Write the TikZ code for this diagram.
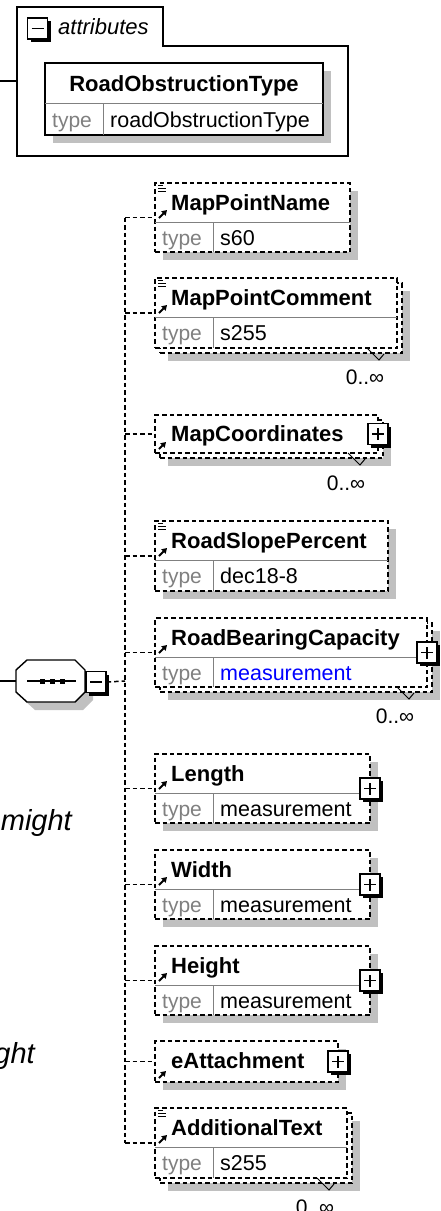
\documentclass[tikz,border=0pt]{standalone}
\usepackage{fontspec}
\setmainfont{Liberation Sans}
\usetikzlibrary{shadows,arrows.meta}

\definecolor{shadegray}{RGB}{192,192,192}
\definecolor{typegray}{RGB}{128,128,128}
\definecolor{typeblue}{RGB}{0,0,255}

\tikzset{
    elem/.style={draw, dash pattern=on 4.5pt off 3pt, line width=1.5pt, fill=white, inner sep=0pt, outer sep=0pt, anchor=north west},
    attrbox/.style={draw, line width=1.4pt, fill=white, inner sep=0pt, outer sep=0pt, anchor=north west},
    boxshadow/.style={drop shadow={shadow xshift=8pt, shadow yshift=-8pt, fill=shadegray, opacity=1}},
    ename/.style={anchor=base west, inner sep=0pt, font=\fontsize{22}{26}\selectfont\bfseries},
    tlabel/.style={anchor=base west, inner sep=0pt, text=typegray, font=\fontsize{21}{25}\selectfont},
    tvalue/.style={anchor=base west, inner sep=0pt, font=\fontsize{21.5}{25}\selectfont},
    occurs/.style={inner sep=0pt, font=\fontsize{21}{25}\selectfont},
    divider/.style={typegray, line width=1pt},
    conn/.style={line width=1.5pt, dash pattern=on 4.5pt off 3pt},
    refarrow/.style={line width=2pt, -{Triangle[length=5pt, width=6pt]}},
    docmark/.style={line width=1pt},
    occmark/.style={line width=1pt},
    expander/.style={draw, fill=white, line width=1.4pt, minimum width=20pt, minimum height=21pt, inner sep=0pt,
        drop shadow={shadow xshift=3pt, shadow yshift=-3pt, fill=black, opacity=1}},
    plusbox/.style={expander, path picture={
        \draw[line width=1.3pt] ([xshift=-6pt]path picture bounding box.center) -- ([xshift=6pt]path picture bounding box.center);
        \draw[line width=1.3pt] ([yshift=-6pt]path picture bounding box.center) -- ([yshift=6pt]path picture bounding box.center);}},
    minusbox/.style={expander, path picture={
        \draw[line width=1.3pt] ([xshift=-6pt]path picture bounding box.center) -- ([xshift=6pt]path picture bounding box.center);}}
}

\begin{document}
\begin{tikzpicture}[x=1pt, y=-1pt]
        \useasboundingbox (0,0) rectangle (440,1211);

        % Draw the attributes group
        \draw[line width=1.4pt] (17,156) -- (17,7) -- (163,7) -- (163,46) -- (348,46) -- (348,156) -- cycle;
        \node[minusbox] (attrMinus) at (37.5,28.5) {};
        \node[anchor=base west, inner sep=0pt, font=\fontsize{22}{26}\selectfont\itshape] (attrLabel) at (58,34) {attributes};
        \coordinate (attrIn) at (0,81);
        \coordinate (attrL) at (17,81);
        \draw[line width=1.4pt] (attrIn) -- (attrL);

        % Draw the attribute RoadObstructionType
        \node[attrbox, boxshadow, minimum width=278pt, minimum height=72pt] (rot) at (45,63) {};
        \draw[divider] (45,103) -- (323,103);
        \draw[divider] (103,103) -- (103,135);
        \node[ename, anchor=base] (rotName) at (184,91) {RoadObstructionType};
        \node[tlabel] (rotType) at (52,127) {type};
        \node[tvalue] (rotVal) at (110,127) {roadObstructionType};

        % Draw the sequence compositor
        \fill[shadegray] (35,668) -- (83,668) -- (93,678) -- (93,700) -- (83,710) -- (35,710) -- (24,700) -- (24,678) -- cycle;
        \draw[line width=1.4pt, fill=white] (27,660) -- (75,660) -- (85,670) -- (85,692) -- (75,702) -- (27,702) -- (16,692) -- (16,670) -- cycle;
        \draw[line width=1.4pt] (27,681) -- (76,681);
        \fill (39.5,678.5) rectangle (44.5,683.5);
        \fill (49.5,678.5) rectangle (54.5,683.5);
        \fill (59.5,678.5) rectangle (64.5,683.5);
        \node[minusbox] (seqm) at (96,682) {};
        \coordinate (seqIn) at (0,681);
        \coordinate (seqL) at (16,681);
        \draw[line width=1.4pt] (seqIn) -- (seqL);

        % Label the clipped notes
        \node[anchor=base east, inner sep=0pt, font=\fontsize{29}{34}\selectfont\itshape] (noteA) at (72,830) {might};
        \node[anchor=base east, inner sep=0pt, font=\fontsize{29}{34}\selectfont\itshape] (noteB) at (35,1063) {ght};

        % MapPointName
        \node[elem, boxshadow, minimum width=195pt, minimum height=69pt] (mpn) at (155,183) {};
        \draw[divider] (155,222) -- (350,222);
        \draw[divider] (213,222) -- (213,252);
        \node[ename] (mpnName) at (171,210) {MapPointName};
        \node[tlabel] (mpnType) at (162,245) {type};
        \node[tvalue] (mpnVal) at (220,245) {s60};
        \draw[docmark] (158,185) -- (163,185) (158,188) -- (166,188) (158,191.5) -- (166,191.5);
        \draw[refarrow] (159,218) -- (167,210);

        % MapPointComment
        \node[elem, boxshadow, minimum width=242pt, minimum height=70pt] (mpcb) at (160,283) {};
        \node[elem, minimum width=242pt, minimum height=70pt] (mpc) at (155,278) {};
        \draw[divider] (155,317) -- (397,317);
        \draw[divider] (213,317) -- (213,348);
        \node[ename] (mpcName) at (171,305) {MapPointComment};
        \node[tlabel] (mpcType) at (162,340) {type};
        \node[tvalue] (mpcVal) at (220,340) {s255};
        \draw[docmark] (158,280) -- (163,280) (158,283) -- (166,283) (158,286.5) -- (166,286.5);
        \draw[refarrow] (159,313) -- (167,305);
        \draw[occmark] (367,348) -- (379,360) -- (384,354);
        \node[occurs] (mpcOcc) at (365,377) {0..∞};

        % MapCoordinates
        \node[elem, boxshadow, minimum width=223pt, minimum height=38pt] (mcb) at (160,420) {};
        \node[elem, minimum width=223pt, minimum height=38pt] (mc) at (155,415) {};
        \node[ename] (mcName) at (171,441) {MapCoordinates};
        \node[plusbox] (mcPlus) at (mc.east) {};
        \draw[refarrow] (159,449) -- (166,442);
        \draw[occmark] (348,453) -- (360,465) -- (365,459);
        \node[occurs] (mcOcc) at (346,483) {0..∞};

        % RoadSlopePercent
        \node[elem, boxshadow, minimum width=233pt, minimum height=70pt] (rsp) at (155,521) {};
        \draw[divider] (155,560) -- (388,560);
        \draw[divider] (213,560) -- (213,591);
        \node[ename] (rspName) at (171,548) {RoadSlopePercent};
        \node[tlabel] (rspType) at (162,583) {type};
        \node[tvalue] (rspVal) at (220,583) {dec18-8};
        \draw[docmark] (158,523) -- (163,523) (158,526) -- (166,526) (158,529.5) -- (166,529.5);
        \draw[refarrow] (159,556) -- (167,548);

        % RoadBearingCapacity
        \node[elem, boxshadow, minimum width=272pt, minimum height=69pt] (rbcb) at (160,623) {};
        \node[elem, minimum width=272pt, minimum height=69pt] (rbc) at (155,618) {};
        \draw[divider] (155,657) -- (427,657);
        \draw[divider] (213,657) -- (213,687);
        \node[ename] (rbcName) at (171,645) {RoadBearingCapacity};
        \node[tlabel] (rbcType) at (162,680) {type};
        \node[tvalue, text=typeblue] (rbcVal) at (220,680) {measurement};
        \node[plusbox] (rbcPlus) at (rbc.east) {};
        \draw[refarrow] (159,653) -- (167,645);
        \draw[occmark] (397,687) -- (409,699) -- (414,693);
        \node[occurs] (rbcOcc) at (395,716) {0..∞};

        % Length
        \node[elem, boxshadow, minimum width=215pt, minimum height=69pt] (len) at (155,754) {};
        \draw[divider] (155,793) -- (370,793);
        \draw[divider] (213,793) -- (213,823);
        \node[ename] (lenName) at (171,781) {Length};
        \node[tlabel] (lenType) at (162,816) {type};
        \node[tvalue] (lenVal) at (220,816) {measurement};
        \node[plusbox] (lenPlus) at (len.east) {};
        \draw[refarrow] (159,789) -- (167,781);

        % Width
        \node[elem, boxshadow, minimum width=215pt, minimum height=69pt] (wid) at (155,850) {};
        \draw[divider] (155,889) -- (370,889);
        \draw[divider] (213,889) -- (213,919);
        \node[ename] (widName) at (171,877) {Width};
        \node[tlabel] (widType) at (162,912) {type};
        \node[tvalue] (widVal) at (220,912) {measurement};
        \node[plusbox] (widPlus) at (wid.east) {};
        \draw[refarrow] (159,885) -- (167,877);

        % Height
        \node[elem, boxshadow, minimum width=215pt, minimum height=69pt] (hgt) at (155,946) {};
        \draw[divider] (155,985) -- (370,985);
        \draw[divider] (213,985) -- (213,1015);
        \node[ename] (hgtName) at (171,973) {Height};
        \node[tlabel] (hgtType) at (162,1008) {type};
        \node[tvalue] (hgtVal) at (220,1008) {measurement};
        \node[plusbox] (hgtPlus) at (hgt.east) {};
        \draw[refarrow] (159,981) -- (167,973);

        % eAttachment
        \node[elem, boxshadow, minimum width=183pt, minimum height=41pt] (eat) at (155,1041) {};
        \node[ename] (eatName) at (171,1068) {eAttachment};
        \node[plusbox] (eatPlus) at (eat.east) {};
        \draw[refarrow] (159,1078) -- (166,1071);

        % AdditionalText
        \node[elem, boxshadow, minimum width=192pt, minimum height=70pt] (addtb) at (160,1113) {};
        \node[elem, minimum width=192pt, minimum height=70pt] (addt) at (155,1108) {};
        \draw[divider] (155,1147) -- (347,1147);
        \draw[divider] (213,1147) -- (213,1178);
        \node[ename] (addtName) at (171,1135) {AdditionalText};
        \node[tlabel] (addtType) at (162,1170) {type};
        \node[tvalue] (addtVal) at (220,1170) {s255};
        \draw[docmark] (158,1110) -- (163,1110) (158,1113) -- (166,1113) (158,1116.5) -- (166,1116.5);
        \draw[refarrow] (159,1143) -- (167,1135);
        \draw[occmark] (317,1178) -- (329,1190) -- (334,1184);
        \node[occurs] (addtOcc) at (315,1207) {0..∞};

        % Draw the connectors of the sequence
        \coordinate (spine) at (125,681);
        \draw[conn] (seqm.east) -- (spine);
        \draw[conn] (spine |- mpn.west) -- (spine |- addt.west);
        \draw[conn] (spine |- mpn.west) -- (mpn.west);
        \draw[conn] (spine |- mpc.west) -- (mpc.west);
        \draw[conn] (spine |- mc.west) -- (mc.west);
        \draw[conn] (spine |- rsp.west) -- (rsp.west);
        \draw[conn] (spine |- rbc.west) -- (rbc.west);
        \draw[conn] (spine |- len.west) -- (len.west);
        \draw[conn] (spine |- wid.west) -- (wid.west);
        \draw[conn] (spine |- hgt.west) -- (hgt.west);
        \draw[conn] (spine |- eat.west) -- (eat.west);
        \draw[conn] (spine |- addt.west) -- (addt.west);
    \end{tikzpicture}
\end{document}
